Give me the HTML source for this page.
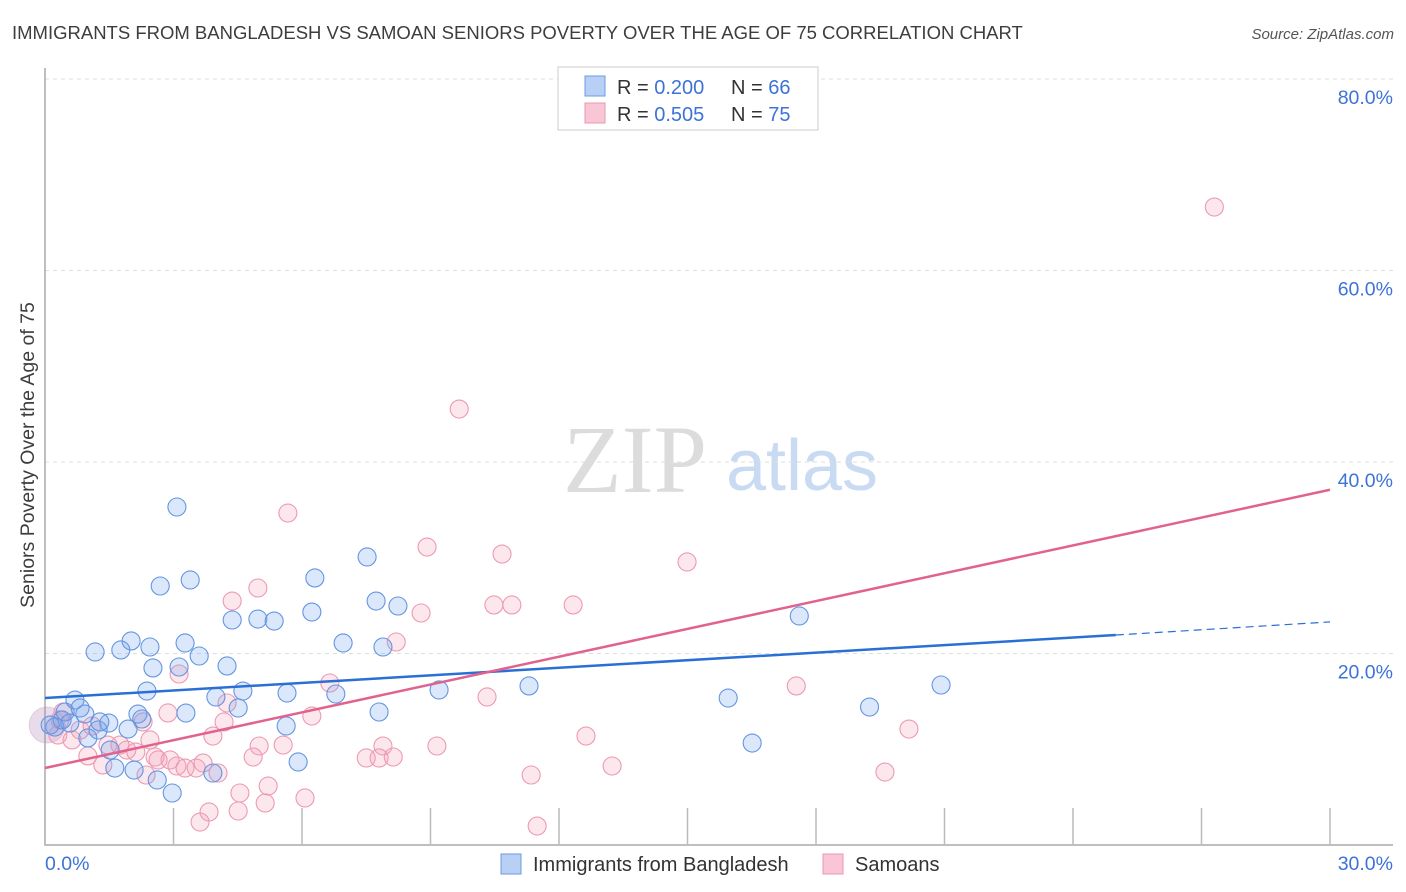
<!DOCTYPE html>
<html><head><meta charset="utf-8">
<style>
body{margin:0;background:#fff;font-family:"Liberation Sans",sans-serif;}
#wrap{position:relative;width:1406px;height:892px;overflow:hidden;}
</style></head>
<body>
<div id="wrap">
<svg id="svg" width="1406" height="892" xmlns="http://www.w3.org/2000/svg">
<text x="12" y="39" font-size="18.5" fill="#3d3d3d">IMMIGRANTS FROM BANGLADESH VS SAMOAN SENIORS POVERTY OVER THE AGE OF 75 CORRELATION CHART</text>
<text x="1394" y="39" font-size="15" fill="#555" font-style="italic" text-anchor="end">Source: ZipAtlas.com</text>
<text x="635" y="492" font-size="96" fill="#dcdcdc" font-family="Liberation Serif,serif" text-anchor="middle">ZIP</text>
<text x="802" y="490" font-size="72" fill="#c9daf3" text-anchor="middle">atlas</text>
<text transform="translate(34,455) rotate(-90)" font-size="19.5" fill="#3d3d3d" text-anchor="middle">Seniors Poverty Over the Age of 75</text>
<g id="grid"></g><g id="marks"></g>
<g>
<rect x="558" y="67" width="260" height="63" fill="#fff" stroke="#ccc"/>
<rect x="585" y="76" width="20" height="20" fill="#b8d0f5" stroke="#6b9be3"/>
<rect x="585" y="103" width="20" height="20" fill="#f9c6d5" stroke="#ec95b0"/>
<text x="617" y="94" font-size="20" fill="#333">R = <tspan fill="#3d73d6">0.200</tspan><tspan x="731">N = </tspan><tspan fill="#3d73d6">66</tspan></text>
<text x="617" y="121" font-size="20" fill="#333">R = <tspan fill="#3d73d6">0.505</tspan><tspan x="731">N = </tspan><tspan fill="#3d73d6">75</tspan></text>
</g>
<g>
<rect x="501" y="854" width="20" height="20" fill="#b8d0f5" stroke="#6b9be3"/>
<text x="533" y="871" font-size="20" fill="#333">Immigrants from Bangladesh</text>
<rect x="823" y="854" width="20" height="20" fill="#f9c6d5" stroke="#ec95b0"/>
<text x="855" y="871" font-size="20" fill="#333">Samoans</text>
</g>
</svg>
</div>
<script>
const blueX=[3.08,2.69,3.39,2.01,2.45,1.17,1.77,3.27,3.60,2.52,3.13,4.25,2.38,3.99,4.62,4.51,3.29,2.17,2.26,1.49,1.24,1.94,0.70,0.82,0.93,0.40,0.23,0.12,0.47,1.52,1.63,2.08,2.62,2.97,3.92,4.37,4.97,5.35,6.23,6.30,7.52,7.73,8.24,6.96,7.89,5.65,6.79,5.63,5.91,7.80,9.20,11.30,15.95,16.51,17.61,19.25,20.92,1.00,0.58,1.28];
const blueY=[35.30,27.05,27.68,21.31,20.68,20.16,20.37,21.10,19.74,18.49,18.59,18.70,16.08,15.46,16.08,14.31,13.78,13.68,13.16,12.74,12.01,12.11,15.14,14.31,13.68,13.06,12.32,12.53,13.89,9.92,8.04,7.83,6.79,5.43,7.52,23.50,23.60,23.39,24.33,27.89,30.08,25.48,24.96,21.10,20.68,15.87,15.77,12.43,8.67,13.89,16.19,16.61,15.35,10.65,23.92,14.41,16.71,11.18,12.74,12.85];
const pinkX=[27.30,9.67,5.67,8.92,10.67,14.99,4.97,4.37,8.78,10.48,10.90,12.33,8.20,3.13,6.65,17.54,10.32,4.25,2.87,6.23,4.18,3.92,2.29,2.45,1.75,1.47,1.91,2.12,2.57,12.63,9.15,7.89,5.00,5.56,4.86,7.50,7.80,8.13,20.17,2.64,2.92,3.08,3.27,3.53,3.69,4.04,2.36,1.35,1.00,13.24,11.35,19.61,5.21,4.55,5.14,6.07,3.83,4.51,3.62,11.49,0.35,0.30,0.63,0.82,1.10,0.42];
const pinkY=[66.63,45.53,34.67,31.12,30.39,29.56,26.84,25.48,24.23,25.07,25.07,25.07,21.20,17.86,16.92,16.61,15.46,14.83,13.79,13.47,12.85,11.38,12.85,10.97,10.44,10.44,9.92,9.71,9.19,11.38,10.34,10.34,10.34,10.44,9.19,9.09,9.09,9.19,12.11,8.88,8.88,8.25,8.04,8.04,8.56,7.52,7.31,8.36,9.30,8.25,7.31,7.62,6.16,5.43,4.39,4.91,3.45,3.55,2.40,1.98,13.06,11.49,10.97,12.01,12.43,13.89];
const blueTrend=[[0,15.35],[25,21.93],[30,23.3]];
const pinkTrend=[[0,8.04],[30,37.1]];
const yTicks=[20,40,60,80];
const xTicks=[3,6,9,12,15,18,21,24,27,30];
const sx=v=>45+v*1285/30;
const sy=v=>845-v*191.5/20;
const NS="http://www.w3.org/2000/svg";
function mk(parent,tag,attrs){const e=document.createElementNS(NS,tag);for(const k in attrs)e.setAttribute(k,attrs[k]);parent.appendChild(e);return e;}
const grid=document.getElementById('grid'),marks=document.getElementById('marks');
yTicks.forEach(t=>{
 const l=mk(grid,'line',{x1:45,x2:1393,y1:sy(t),y2:sy(t),stroke:'#ddd','stroke-dasharray':'4,4'});
 
 
 const tx=mk(grid,'text',{x:1393,y:sy(t)+25,'font-size':19.5,fill:'#3d73d6','text-anchor':'end'});
 tx.textContent=t.toFixed(1)+'%';
 
 
});
const ax=mk(grid,'path',{d:'M45,68V845H1393',fill:'none',stroke:'#aaa','stroke-width':1.5});


xTicks.forEach(t=>{
 const l=mk(grid,'line',{x1:sx(t),x2:sx(t),y1:808,y2:845,stroke:'#bbb','stroke-width':1.5});
 
 
});
const xl0=mk(grid,'text',{x:45,y:870,'font-size':19.5,fill:'#3d73d6'});xl0.textContent='0.0%';


const xl1=mk(grid,'text',{x:1393,y:870,'font-size':19.5,fill:'#3d73d6','text-anchor':'end'});xl1.textContent='30.0%';


function pts(xs,ys,fill,stroke,name){
 xs.forEach((x,i)=>{
  const c=mk(marks,'circle',{cx:sx(x),cy:sy(ys[i]),r:9,fill:fill,stroke:stroke,'stroke-width':1.1});
  
  
 });
}
const big=mk(marks,'circle',{cx:sx(0.05),cy:sy(12.53),r:18,fill:'rgba(180,140,190,0.3)',stroke:'rgba(200,150,190,0.4)'});


pts(pinkX,pinkY,'rgba(244,160,185,0.25)','#ec9ab3','point-samoans');
pts(blueX,blueY,'rgba(110,160,235,0.25)','#6496e0','point-bangladesh');
const bt=mk(marks,'line',{x1:sx(blueTrend[0][0]),y1:sy(blueTrend[0][1]),x2:sx(blueTrend[1][0]),y2:sy(blueTrend[1][1]),stroke:'#2a6fd6','stroke-width':2.5});


const bd=mk(marks,'line',{x1:sx(blueTrend[1][0]),y1:sy(blueTrend[1][1]),x2:sx(blueTrend[2][0]),y2:sy(blueTrend[2][1]),stroke:'#2a6fd6','stroke-width':1.2,'stroke-dasharray':'8,5'});


const pt=mk(marks,'line',{x1:sx(pinkTrend[0][0]),y1:sy(pinkTrend[0][1]),x2:sx(pinkTrend[1][0]),y2:sy(pinkTrend[1][1]),stroke:'#e2628f','stroke-width':2.5});


</script>
</body></html>
